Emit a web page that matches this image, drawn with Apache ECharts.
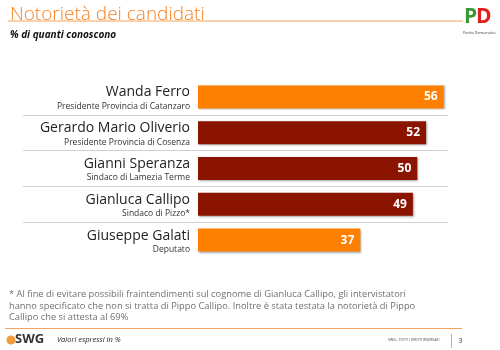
<!DOCTYPE html>
<html>
<head>
<meta charset="utf-8">
<script src="https://cdn.jsdelivr.net/npm/echarts@6/dist/echarts.min.js"></script>
<style>
  html, body { margin: 0; padding: 0; background: #fff; }
  #chart { width: 500px; height: 350px; }
</style>
</head>
<body>
<div id="chart"></div>
<script>
// candidati, dall'alto verso il basso
const names = ['Wanda Ferro', 'Gerardo Mario Oliverio', 'Gianni Speranza', 'Gianluca Callipo', 'Giuseppe Galati']
const roles = ['Presidente Provincia di Catanzaro', 'Presidente Provincia di Cosenza', 'Sindaco di Lamezia Terme', 'Sindaco di Pizzo*', 'Deputato']
const values = [56, 52, 50, 49, 37]
const barColors = ['#FF8000', '#8B1400', '#8B1400', '#8B1400', '#FF8000']

const footnote = [
  '* Al fine di evitare possibili fraintendimenti sul cognome di Gianluca Callipo, gli intervistatori',
  'hanno specificato che non si tratta di Pippo Callipo. Inoltre è stata testata la notorietà di Pippo',
  'Callipo che si attesta al 69%'
]

const FONT = '"Open Sans", "Noto Sans", sans-serif'
const chart = echarts.init(document.getElementById('chart'), null, { renderer: 'canvas' })

const option = {
  animation: false,
  backgroundColor: '#fff',
  title: {
    text: 'Notorietà dei candidati',
    left: 5,
    top: 0,
    textStyle: { color: '#F7801E', fontSize: 19, fontWeight: 300, fontFamily: FONT },
    subtext: '% di quanti conoscono',
    subtextStyle: { color: '#111', fontSize: 10, fontWeight: 'bold', fontStyle: 'italic', fontFamily: FONT },
    itemGap: 6
  },
  grid: { left: 23, right: 52, top: 79, height: 179 },
  xAxis: {
    type: 'value',
    min: -39.9,
    max: 57,
    show: false
  },
  yAxis: {
    type: 'category',
    inverse: true,
    data: names,
    axisLine: { show: false },
    axisTick: { show: false },
    axisLabel: { show: false },
    splitLine: {
      show: true,
      showMinLine: false,
      showMaxLine: false,
      lineStyle: { color: '#D0D0D0', width: 1 }
    }
  },
  series: [{
    type: 'bar',
    barWidth: 23,
    data: values.map((v, i) => ({
      value: v,
      itemStyle: { color: barColors[i] }
    })),
    itemStyle: {
      shadowColor: 'rgba(0,0,0,0.35)',
      shadowBlur: 2,
      shadowOffsetX: 1,
      shadowOffsetY: 1
    },
    label: {
      show: true,
      position: 'insideRight',
      distance: 6,
      color: '#fff',
      fontWeight: 'bold',
      fontSize: 12,
      fontFamily: FONT
    }
  }, {
    // etichette con nome e carica, a sinistra delle barre
    type: 'bar',
    barWidth: 23,
    barGap: '-100%',
    silent: true,
    itemStyle: { color: 'transparent' },
    data: values.map(() => 0.001),
    label: {
      show: true,
      position: 'left',
      distance: 8,
      offset: [0, 1],
      align: 'right',
      formatter: (p) => '{n|' + names[p.dataIndex] + '}\n{r|' + roles[p.dataIndex] + '}',
      rich: {
        n: { fontSize: 14, color: '#222', fontFamily: FONT, lineHeight: 17, align: 'right' },
        r: { fontSize: 8.5, color: '#333', fontFamily: FONT, lineHeight: 11, align: 'right' }
      }
    }
  }],
  graphic: [
    { type: 'line', shape: { x1: 8, y1: 21, x2: 463, y2: 21 }, style: { stroke: '#F7A35C', lineWidth: 1 } },
    // logo PD
    { type: 'text', left: 464, top: 7, style: { text: 'P', fill: '#3A9A3A', font: 'bold 21px ' + FONT } },
    { type: 'text', left: 476, top: 7, style: { text: 'D', fill: '#E02020', font: 'bold 21px ' + FONT } },
    { type: 'text', left: 463, top: 31, style: { text: 'Partito Democratico', fill: '#333', font: '3.5px ' + FONT } },
    // nota
    ...footnote.map((t, i) => ({
      type: 'text', left: 9, top: 290 + i * 11.5,
      style: { text: t, fill: '#707070', font: '9.3px ' + FONT }
    })),
    { type: 'line', shape: { x1: 5, y1: 328.5, x2: 462, y2: 328.5 }, style: { stroke: '#F7A35C', lineWidth: 1 } },
    // piè di pagina
    { type: 'circle', shape: { cx: 11, cy: 340, r: 4.5 }, style: { fill: '#F39A3A' } },
    { type: 'text', left: 15, top: 333, style: { text: 'SWG', fill: '#333', font: 'bold 13px ' + FONT } },
    { type: 'text', left: 57, top: 336, style: { text: 'Valori espressi in %', fill: '#222', font: 'italic 7.5px ' + FONT } },
    { type: 'text', left: 388, top: 338, style: { text: 'SWG - TUTTI I DIRITTI RISERVATI', fill: '#444', font: '3.5px ' + FONT } },
    { type: 'line', shape: { x1: 451.5, y1: 334, x2: 451.5, y2: 348 }, style: { stroke: '#F7A35C', lineWidth: 1 } },
    { type: 'text', left: 458, top: 337, style: { text: '3', fill: '#444', font: '8px ' + FONT } }
  ]
}

chart.setOption(option)
</script>
</body>
</html>
